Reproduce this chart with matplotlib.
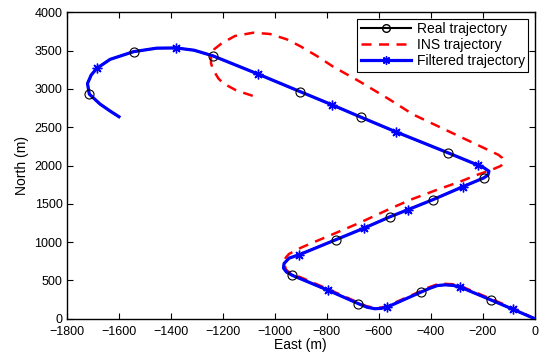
import numpy as np
import matplotlib
matplotlib.use('Agg')
import matplotlib.pyplot as plt
from matplotlib.lines import Line2D

plt.rcParams['font.family'] = ['Liberation Sans', 'DejaVu Sans']
plt.rcParams['font.size'] = 9

# real trajectory (filtered one lies on top of it)
real_east = [0, -85, -169, -287, -315, -345, -375, -405, -437, -567,
             -590, -615, -645, -678, -794, -932, -955, -966, -964, -945,
             -905, -765, -655, -557, -486, -393, -275, -196, -180, -176,
             -195, -219, -335, -535, -667, -778, -901, -1065, -1238, -1310,
             -1379, -1454, -1543, -1633, -1684, -1706, -1720, -1713, -1672, -1633,
             -1599]
real_north = [0, 125, 246, 414, 435, 442, 432, 395, 348, 152,
              135, 130, 150, 196, 370, 566, 610, 660, 720, 790,
              836, 1031, 1184, 1330, 1425, 1552, 1725, 1838, 1875, 1925,
              1970, 2006, 2168, 2441, 2629, 2790, 2963, 3195, 3432, 3505,
              3535, 3532, 3486, 3386, 3269, 3180, 3070, 2932, 2803, 2711,
              2637]
circle_idx = [2, 8, 13, 15, 21, 23, 25, 27, 32, 34, 36, 38, 42, 47]
star_idx = [1, 3, 9, 14, 20, 22, 24, 26, 31, 33, 35, 37, 40, 44]

filt_east = real_east
filt_north = real_north

ins_east = [0, -85, -169, -287, -315, -345, -378, -408, -437, -567,
            -592, -618, -648, -680, -794, -900, -940, -957, -963, -958,
            -945, -900, -845, -768, -678, -560, -480, -370, -287, -223,
            -165, -130, -118, -125, -140, -287, -467, -560, -672, -775,
            -838, -903, -954, -1018, -1082, -1153, -1204, -1232, -1245, -1245,
            -1236, -1217, -1198, -1146, -1082]
ins_north = [0, 138, 260, 428, 450, 455, 445, 408, 362, 165,
             145, 142, 165, 212, 385, 540, 590, 645, 720, 795,
             845, 925, 1005, 1115, 1245, 1430, 1550, 1690, 1789, 1876,
             1945, 1995, 2050, 2100, 2140, 2376, 2665, 2865, 3094, 3290,
             3430, 3560, 3648, 3717, 3734, 3691, 3595, 3520, 3420, 3334,
             3247, 3138, 3073, 2977, 2907]

STAR = (8, 2, 0)

fig = plt.figure(figsize=(5.4, 3.56), dpi=100)
ax = fig.add_axes([0.1235, 0.1048, 0.8667, 0.8606])

ax.plot(real_east, real_north, color='black', lw=1.5, zorder=2)
ax.plot(ins_east, ins_north, color='red', lw=1.8, dashes=(4, 3), zorder=3)
ax.plot(filt_east, filt_north, color='blue', lw=2.3, zorder=4)
ax.plot(np.array(real_east)[circle_idx], np.array(real_north)[circle_idx], 'o',
        mfc='none', mec='black', mew=0.8, ms=6.5, zorder=5)
ax.plot(np.array(filt_east)[star_idx], np.array(filt_north)[star_idx],
        marker=STAR, ls='none', color='blue', mew=1.0, ms=7, zorder=6)

ax.set_xlim(-1800, 0)
ax.set_ylim(0, 4000)
ax.set_xticks(np.arange(-1800, 1, 200))
ax.set_yticks(np.arange(0, 4001, 500))
ax.tick_params(direction='in', length=4, width=0.8, top=True, right=True)
ax.tick_params(axis='x', pad=5)
ax.tick_params(axis='y', pad=3)
for s in ax.spines.values():
    s.set_linewidth(1.0)
ax.set_xlabel('East (m)', fontsize=10, labelpad=0.5)
ax.set_ylabel('North (m)', fontsize=10, labelpad=4)

handles = [
    Line2D([], [], color='black', lw=1.5, marker='o', mfc='none', mec='black', ms=5.5),
    Line2D([], [], color='red', lw=1.8, dashes=(4, 3)),
    Line2D([], [], color='blue', lw=2.3, marker=STAR, mew=1.0, ms=6),
]
leg = ax.legend(handles, ['Real trajectory', 'INS trajectory', 'Filtered trajectory'],
                loc='upper right', fancybox=False, framealpha=1, edgecolor='black',
                borderaxespad=0.45, handlelength=3.6, handletextpad=0.45,
                labelspacing=0.15, borderpad=0.25, fontsize=10)
leg.get_frame().set_linewidth(0.8)

fig.savefig('out.png', dpi=100)
